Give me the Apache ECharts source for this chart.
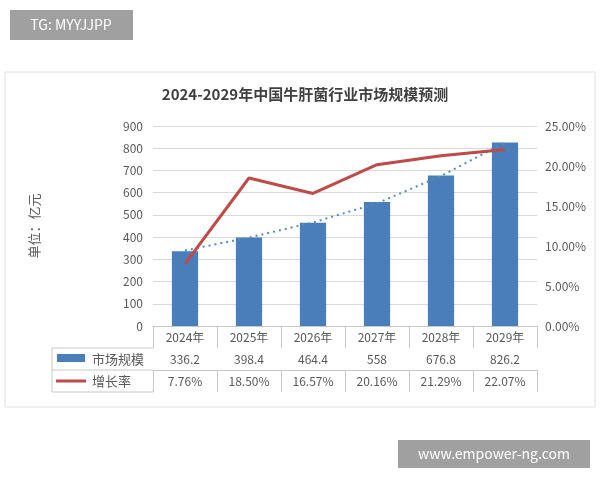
<!DOCTYPE html>
<html><head><meta charset="utf-8">
<script src="https://cdn.jsdelivr.net/npm/echarts@6/dist/echarts.min.js"></script>
<style>html,body{margin:0;padding:0;background:#fff}#c{width:600px;height:480px}</style>
</head><body><div id="c"></div>
<script>
const categories = ['2024年','2025年','2026年','2027年','2028年','2029年'];
const marketSize = [336.2, 398.4, 464.4, 558, 676.8, 826.2];
const growthRate = [7.76, 18.50, 16.57, 20.16, 21.29, 22.07];
const trendValues = [340, 398, 466, 552, 675, 826];
const leftTicks = [0, 900, 100];
const rightTicks = [0, 25, 5];
const barName = '市场规模', lineName = '增长率';
const title = '2024-2029年中国牛肝菌行业市场规模预测';
const font = '"Noto Sans CJK SC","Noto Sans",sans-serif';
const txt = '#595959', border = '#c8c8c8';
const chart = echarts.init(document.getElementById('c'));
function tableAxis(data, offset){
  return {type:'category', data:data, position:'bottom', offset:offset, gridIndex:0,
    axisLine:{show:true,lineStyle:{color:border}}, axisTick:{show:true,length:22,lineStyle:{color:border}},
    axisLabel:{color:txt,fontSize:12,fontFamily:font,margin:5}, splitLine:{show:false}};
}
chart.setOption({
  animation:false,
  title:{text:title,left:300,top:82,textAlign:'center',textStyle:{fontSize:15,fontWeight:'bold',color:'#404040',fontFamily:font}},
  grid:{left:153,right:63,top:126,bottom:154},
  xAxis:[tableAxis(categories,0),
    tableAxis(marketSize.map(String),22),
    tableAxis(growthRate.map(v=>v.toFixed(2)+'%'),44)],
  yAxis:[{type:'value',min:leftTicks[0],max:leftTicks[1],interval:leftTicks[2],
      name:'单位：亿元',nameLocation:'middle',nameGap:112,nameTextStyle:{color:txt,fontSize:13,fontFamily:font},
      axisLabel:{color:txt,fontSize:12,fontFamily:font,margin:10},axisLine:{show:false},axisTick:{show:false},
      splitLine:{lineStyle:{color:'#d9d9d9'}}},
    {type:'value',min:rightTicks[0],max:rightTicks[1],interval:rightTicks[2],position:'right',
      axisLabel:{color:txt,fontSize:12,fontFamily:font,margin:8,formatter:v=>v.toFixed(2)+'%'},
      axisLine:{show:false},axisTick:{show:false},splitLine:{show:false}}],
  series:[
    {name:barName,type:'bar',data:marketSize,barWidth:'41%',itemStyle:{color:'#4a7ebb'}},
    {name:'趋势',type:'line',data:trendValues,symbol:'none',lineStyle:{color:'#5a8cb0',width:2,type:[2,4]},z:3},
    {name:lineName,type:'line',yAxisIndex:1,data:growthRate,symbol:'none',lineStyle:{color:'#be4b48',width:3},z:4}
  ],
  graphic:[
    {type:'rect',shape:{x:5,y:72,width:590,height:335},style:{fill:'none',stroke:'#e0e0e0',lineWidth:1},z:-1},
    {type:'line',shape:{x1:52,y1:348,x2:153,y2:348},style:{stroke:border}},
    {type:'line',shape:{x1:52,y1:370,x2:153,y2:370},style:{stroke:border}},
    {type:'line',shape:{x1:52,y1:392,x2:153,y2:392},style:{stroke:border}},
    {type:'line',shape:{x1:52,y1:348,x2:52,y2:392},style:{stroke:border}},
    {type:'rect',shape:{x:57,y:354,width:28,height:8},style:{fill:'#4a7ebb'}},
    {type:'text',style:{text:barName,x:92,y:359,verticalAlign:'middle',fill:txt,fontSize:13,fontFamily:font}},
    {type:'line',shape:{x1:56,y1:381,x2:86,y2:381},style:{stroke:'#be4b48',lineWidth:3}},
    {type:'text',style:{text:lineName,x:92,y:381,verticalAlign:'middle',fill:txt,fontSize:13,fontFamily:font}},
    {type:'rect',shape:{x:10,y:10,width:123,height:30},style:{fill:'#a0a0a0'}},
    {type:'text',style:{text:'TG: MYYJJPP',x:71,y:25,align:'center',verticalAlign:'middle',fill:'#fff',fontSize:14,fontFamily:font}},
    {type:'rect',shape:{x:398,y:440,width:192,height:28},style:{fill:'#a0a0a0'}},
    {type:'text',style:{text:'www.empower-ng.com',x:494,y:454,align:'center',verticalAlign:'middle',fill:'#fff',fontSize:14,fontFamily:font}}
  ]
});
</script></body></html>
